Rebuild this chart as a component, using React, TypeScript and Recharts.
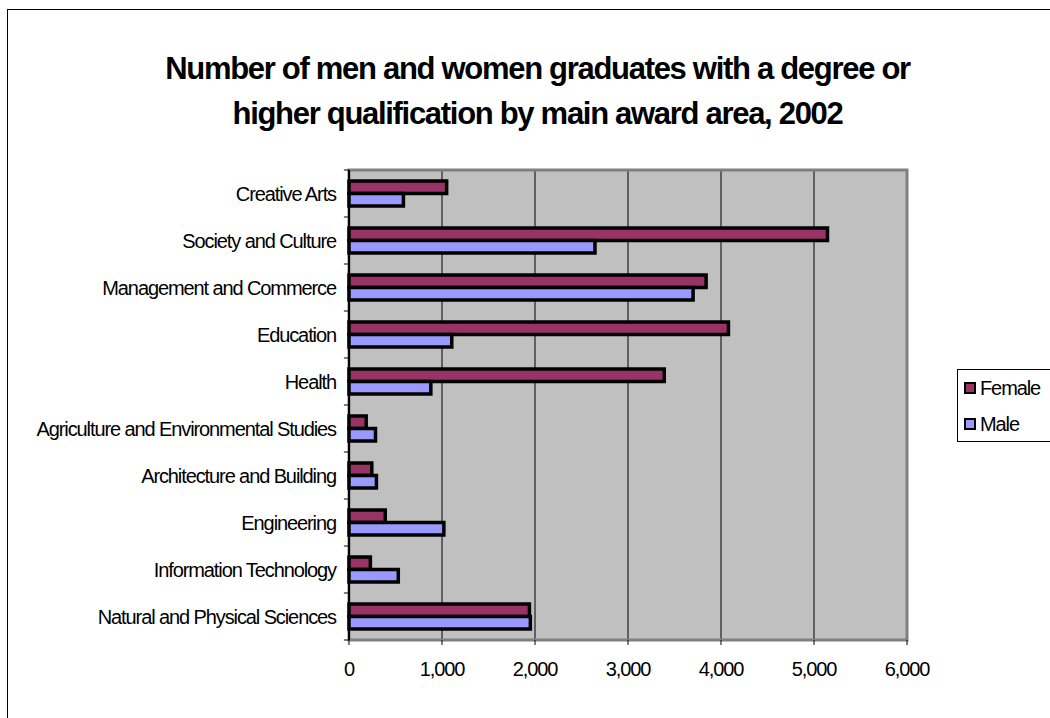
import React from "react";
import { BarChart, Bar, XAxis, YAxis, CartesianGrid, ReferenceArea, ReferenceLine } from "recharts";

const categories = [
  "Creative Arts",
  "Society and Culture",
  "Management and Commerce",
  "Education",
  "Health",
  "Agriculture and Environmental Studies",
  "Architecture and Building",
  "Engineering",
  "Information Technology",
  "Natural and Physical Sciences",
];
const female = [1050, 5145, 3840, 4080, 3390, 185, 245, 390, 230, 1940];
const male = [585, 2645, 3700, 1105, 880, 285, 295, 1020, 530, 1950];
const xTicks = [0, 1000, 2000, 3000, 4000, 5000, 6000];
const seriesNames = ["Female", "Male"];
const seriesColors = ["#993366", "#9999FF"];
const titleLines = [
  "Number of men and women graduates with a degree or",
  "higher qualification by main award area, 2002",
];
const TICK_LEN_UNITS = 55;

const data = categories.map((c, i) => ({ category: c, Female: female[i], Male: male[i] }));

const FONT = "'Liberation Sans', Arial, sans-serif";
const tickStyle = { fill: "#000", fontSize: 20, fontFamily: FONT, letterSpacing: -1.1 };

export default function App() {
  return (
    <div style={{ position: "absolute", left: 0, top: 0, width: 1050, height: 718, overflow: "hidden", background: "#fff", fontFamily: FONT }}>
      <div style={{ position: "absolute", left: 7, top: 9, width: 2000, height: 2000, border: "1px solid #000" }} />
      <div style={{ position: "absolute", left: 0, top: 46, width: 1075, textAlign: "center", fontWeight: "bold", fontSize: 31, lineHeight: "45px", letterSpacing: -1.3, color: "#000" }}>
        {titleLines.map((t) => (
          <div key={t}>{t}</div>
        ))}
      </div>
      <div style={{ position: "absolute", left: 0, top: 0 }}>
        <BarChart
          width={1050}
          height={718}
          data={data}
          layout="vertical"
          margin={{ top: 170, right: 143, bottom: 38, left: 0 }}
          barGap={0}
          barSize={12.5}
        >
          <CartesianGrid yAxisId="cat" horizontal={false} vertical={true} stroke="#000" strokeWidth={1} fill="#C0C0C0" fillOpacity={1} />
          <XAxis
            type="number"
            domain={[0, 6000]}
            ticks={xTicks}
            interval={0}
            tickFormatter={(v: number) => v.toLocaleString("en-US")}
            axisLine={false}
            tickLine={{ stroke: "#000" }}
            tickSize={5}
            tickMargin={17}
            height={40}
            tick={tickStyle}
          />
          <YAxis
            yAxisId="cat"
            type="category"
            dataKey="category"
            width={349}
            interval={0}
            axisLine={false}
            tickLine={false}
            tickSize={0}
            tickMargin={13}
            tick={tickStyle}
          />
          <ReferenceArea yAxisId="cat" x1={0} x2={6000} fill="none" stroke="#808080" strokeWidth={3} ifOverflow="visible" />
          <ReferenceLine yAxisId="cat" x={0} stroke="#000" strokeWidth={2} ifOverflow="visible" />
          {categories.map((c) => (
            <ReferenceLine
              key={"t-" + c}
              yAxisId="cat"
              segment={[{ x: -TICK_LEN_UNITS, y: c }, { x: 0, y: c }]}
              position="start"
              stroke="#000"
              strokeWidth={1}
              ifOverflow="visible"
            />
          ))}
          <ReferenceLine
            yAxisId="cat"
            segment={[{ x: -TICK_LEN_UNITS, y: categories[categories.length - 1] }, { x: 0, y: categories[categories.length - 1] }]}
            position="end"
            stroke="#000"
            strokeWidth={1}
            ifOverflow="visible"
          />
          <Bar yAxisId="cat" dataKey="Female" name={seriesNames[0]} fill={seriesColors[0]} stroke="#000" strokeWidth={3.5} isAnimationActive={false} />
          <Bar yAxisId="cat" dataKey="Male" name={seriesNames[1]} fill={seriesColors[1]} stroke="#000" strokeWidth={3.5} isAnimationActive={false} />
        </BarChart>
      </div>
      <div style={{ position: "absolute", left: 957, top: 369, width: 120, height: 73, border: "1px solid #000", background: "#fff", boxSizing: "border-box" }}>
        {seriesNames.map((n, i) => (
          <div key={n} style={{ position: "absolute", left: 6, top: i === 0 ? 4 : 40, height: 28, display: "flex", alignItems: "center", fontSize: 20, letterSpacing: -1.1, color: "#000" }}>
            <span style={{ display: "inline-block", width: 8, height: 8, background: seriesColors[i], border: "2.5px solid #000", marginRight: 4 }} />
            <span>{n}</span>
          </div>
        ))}
      </div>
    </div>
  );
}
